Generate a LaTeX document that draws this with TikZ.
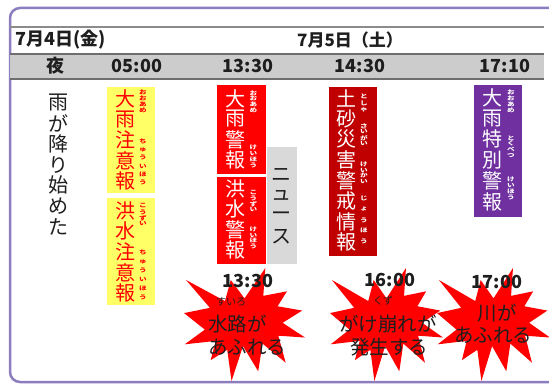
\documentclass[tikz,border=0pt]{standalone}
\usepackage{fontspec}
\setmainfont{Noto Sans CJK JP}
\definecolor{framec}{RGB}{140,125,190}
\definecolor{starred}{RGB}{255,0,0}
\definecolor{darkred}{RGB}{192,0,0}
\definecolor{purp}{RGB}{112,48,160}
\definecolor{yel}{RGB}{255,255,102}
\definecolor{newsgray}{RGB}{217,217,217}
\definecolor{bandgray}{RGB}{204,204,204}
\definecolor{linegray}{RGB}{110,110,110}
\definecolor{txt}{RGB}{30,30,30}
\newcommand\vcol[6]{\foreach \c [count=\i] in {#6}{\node[#5] (#1\i) at (#2,{#3+(\i-1)*#4}) {\c};}}
\newcommand\rubycol[6]{\foreach \c [count=\i] in {#6}{\node[#5] (#1\i) at (#2,{#3+(\i-1)*#4}) {\scalebox{1}[0.75]{\c}};}}
\newcommand\burst[4]{\begin{scope}[shift={(#1,#2)}, xscale=#3/216, yscale=#4/216]
\fill[starred] (108,58) -- (145.22,0) -- (141.55,53.25) -- (183.8,44.57) -- (167.02,73.15) -- (210.97,81.37) -- (176.07,104.75) -- (216,132.9) -- (168.37,129.42) -- (181.45,180.95) -- (140.2,144.57) -- (132.47,197.37) -- (105.32,149.35) -- (84.85,216) -- (77.15,156.27) -- (47.62,176.17) -- (56.67,139.37) -- (1.35,145.87) -- (37.22,117.75) -- (0,86.15) -- (46.27,76.17) -- (3.7,22.95) -- (73.12,63.2) -- (83.52,22.95) -- cycle;
\end{scope}}
\begin{document}
\begin{tikzpicture}[x=1pt,y=-1pt,
  box/.style={inner sep=0pt, outer sep=0pt, anchor=north west, draw=none},
  big/.style={inner sep=0pt, font=\fontsize{20}{20}\selectfont},
  ruby/.style={inner sep=0pt, font=\fontsize{7.6}{8}\selectfont\bfseries},
  head/.style={inner sep=0pt, font=\fontsize{18}{20}\selectfont\bfseries, text=txt},
  startxt/.style={inner sep=0pt, font=\fontsize{19.5}{20}\selectfont, text=txt},
  smallruby/.style={inner sep=0pt, font=\fontsize{10}{11}\selectfont, text=txt}]
\useasboundingbox (0,0) rectangle (549,385);
\clip (0,0) rectangle (549,385);
\fill[white] (0,0) rectangle (549,385);
% frame
\draw[framec, line width=2.5pt, rounded corners=10pt] (10,8) rectangle (590,382);
% date row line
\draw[linegray!80, line width=2pt] (10,27) -- (544,27);
\node[head, anchor=west] (d1) at (15,40) {7月4日(金)};
\node[head, anchor=west, font=\fontsize{17}{20}\selectfont\bfseries] (d2) at (297,40) {7月5日（土）};
% band
\fill[bandgray] (10,54) rectangle (544,79);
\draw[linegray, line width=1.6pt] (10,54) -- (544,54);
\draw[linegray, line width=1.4pt] (10,79) -- (544,79);
\node[head] (h0) at (55,66) {夜};
\node[head] (h1) at (137,66) {05:00};
\node[head] (h2) at (248,66) {13:30};
\node[head] (h3) at (360,66) {14:30};
\node[head] (h4) at (505,66) {17:10};
% left text
\vcol{ame}{58}{103}{20.6}{big, text=txt}{雨,が,降,り,始,め,た}
% yellow boxes
\node[box, fill=yel, minimum width=48pt, minimum height=106pt] (by1) at (107,87) {};
\node[box, fill=yel, minimum width=48pt, minimum height=107pt] (by2) at (107,198) {};
\vcol{ya}{125}{98.5}{20.7}{big, text=starred}{大,雨,注,意,報}
\rubycol{yra}{143}{92.8}{5.8}{ruby, text=starred}{お,お,あ,め}
\rubycol{yrb}{143}{141.2}{8.3}{ruby, text=starred}{ち,ゅ,う,い,ほ,う}
\vcol{yb}{125}{210.5}{20.7}{big, text=starred}{洪,水,注,意,報}
\rubycol{yrc}{143}{206}{6}{ruby, text=starred}{こ,う,ず,い}
\rubycol{yrd}{143}{252.5}{9}{ruby, text=starred}{ち,ゅ,う,い,ほ,う}
% red boxes
\node[box, fill=starred, minimum width=49pt, minimum height=89pt] (br1) at (217,85) {};
\node[box, fill=starred, minimum width=49pt, minimum height=87pt] (br2) at (217,177) {};
\vcol{ra}{235}{98.5}{20.5}{big, text=white}{大,雨,警,報}
\rubycol{rra}{253.5}{92.9}{5.8}{ruby, text=white}{お,お,あ,め}
\rubycol{rrb}{253.5}{147.9}{5.8}{ruby, text=white}{け,い,ほ,う}
\vcol{rb}{235}{188.5}{20.5}{big, text=white}{洪,水,警,報}
\rubycol{rrc}{253.5}{192.8}{5.7}{ruby, text=white}{こ,う,ず,い}
\rubycol{rrd}{253.5}{229.6}{5.6}{ruby, text=white}{け,い,ほ,う}
% news box
\node[box, fill=newsgray, minimum width=30pt, minimum height=117pt] (bn) at (267,147) {};
\vcol{nw}{281}{175.3}{20.5}{big, text=txt}{ニ,ュ,ー,ス}
% dark red box
\node[box, fill=darkred, minimum width=48pt, minimum height=169pt] (bd) at (329,87) {};
\vcol{da}{346.5}{98}{20.6}{big, text=white}{土,砂,災,害,警,戒,情,報}
\rubycol{dra}{364}{96.3}{6.67}{ruby, text=white}{と,し,ゃ}
\rubycol{drb}{364}{126}{6}{ruby, text=white}{さ,い,が,い}
\rubycol{drc}{364}{164.6}{5.6}{ruby, text=white}{け,い,か,い}
\rubycol{drd}{364}{198.4}{10.8}{ruby, text=white}{じ,ょ,う,ほ,う}
% purple box
\node[box, fill=purp, minimum width=48pt, minimum height=132pt] (bp) at (474,85) {};
\vcol{pa}{492}{97.5}{20.8}{big, text=white}{大,雨,特,別,警,報}
\rubycol{pra}{511}{92.8}{5.8}{ruby, text=white}{お,お,あ,め}
\rubycol{prb}{511}{137.9}{5.8}{ruby, text=white}{と,く,べ,つ}
\rubycol{prc}{511}{179.9}{5.8}{ruby, text=white}{け,い,ほ,う}
% bursts
\burst{184}{268}{121}{113}
\burst{330}{268}{113}{113}
\burst{437}{268}{113}{113}
% times
\node[head] (t1) at (248,281) {13:30};
\node[head] (t2) at (390,280) {16:00};
\node[head] (t3) at (497,282) {17:00};
% burst texts
\node[smallruby] (s1r) at (231,302) {すいろ};
\node[startxt, anchor=west] (s1a) at (208,324) {水路が};
\node[startxt, anchor=west] (s1b) at (208,347) {あふれる};
\node[smallruby] (s2r) at (383,301) {くず};
\node[startxt] (s2a) at (388,324) {がけ崩れが};
\node[startxt] (s2b) at (389,347) {発生する};
\node[startxt] (s3a) at (497,313) {川が};
\node[startxt] (s3b) at (493,335) {あふれる};
\end{tikzpicture}
\end{document}
